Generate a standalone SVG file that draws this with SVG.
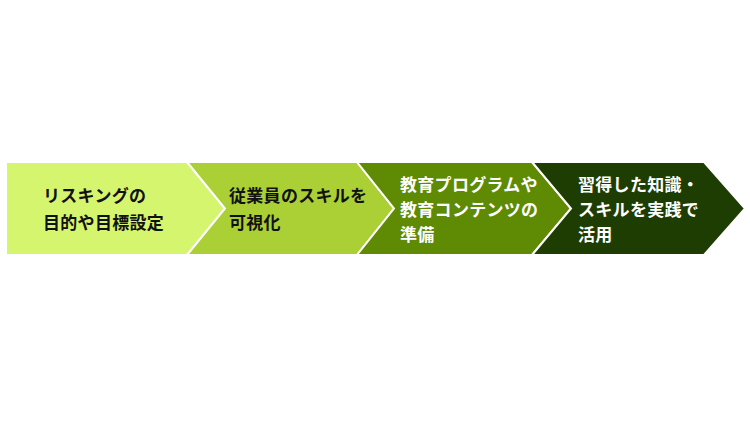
<svg xmlns="http://www.w3.org/2000/svg" width="750" height="421" viewBox="0 0 750 421">
<style>
.step{stroke:#ffffff;stroke-width:2;stroke-linejoin:miter}
.t{font-family:"Noto Sans CJK JP","Noto Sans",sans-serif;font-size:17px;font-weight:bold;letter-spacing:0.3px}
.dark{fill:#111111}
.light{fill:#ffffff}
</style>
<rect width="750" height="421" fill="#ffffff"/>
<g id="connectors"></g>
<g id="step1">
<polygon class="step" fill="#d6f56f" points="6,162 187,162 225,208.5 187,255 6,255"/>
<text class="t dark" x="43" y="202">リスキングの</text>
<text class="t dark" x="43" y="228.5">目的や目標設定</text>
</g>
<g id="step2">
<polygon class="step" fill="#abd036" points="187,162 357,162 394,208.5 357,255 187,255 225,208.5"/>
<text class="t dark" x="229" y="202">従業員のスキルを</text>
<text class="t dark" x="229" y="228.5">可視化</text>
</g>
<g id="step3">
<polygon class="step" fill="#5e8a04" points="357,162 532,162 571,208.5 532,255 357,255 394,208.5"/>
<text class="t light" x="400" y="190.5">教育プログラムや</text>
<text class="t light" x="400" y="215.5">教育コンテンツの</text>
<text class="t light" x="400" y="240.5">準備</text>
</g>
<g id="step4">
<polygon class="step" fill="#1d3d02" points="532,162 704,162 745,208.5 704,255 532,255 571,208.5"/>
<text class="t light" x="578" y="190.5">習得した知識・</text>
<text class="t light" x="578" y="215.5">スキルを実践で</text>
<text class="t light" x="578" y="240.5">活用</text>
</g>
</svg>
